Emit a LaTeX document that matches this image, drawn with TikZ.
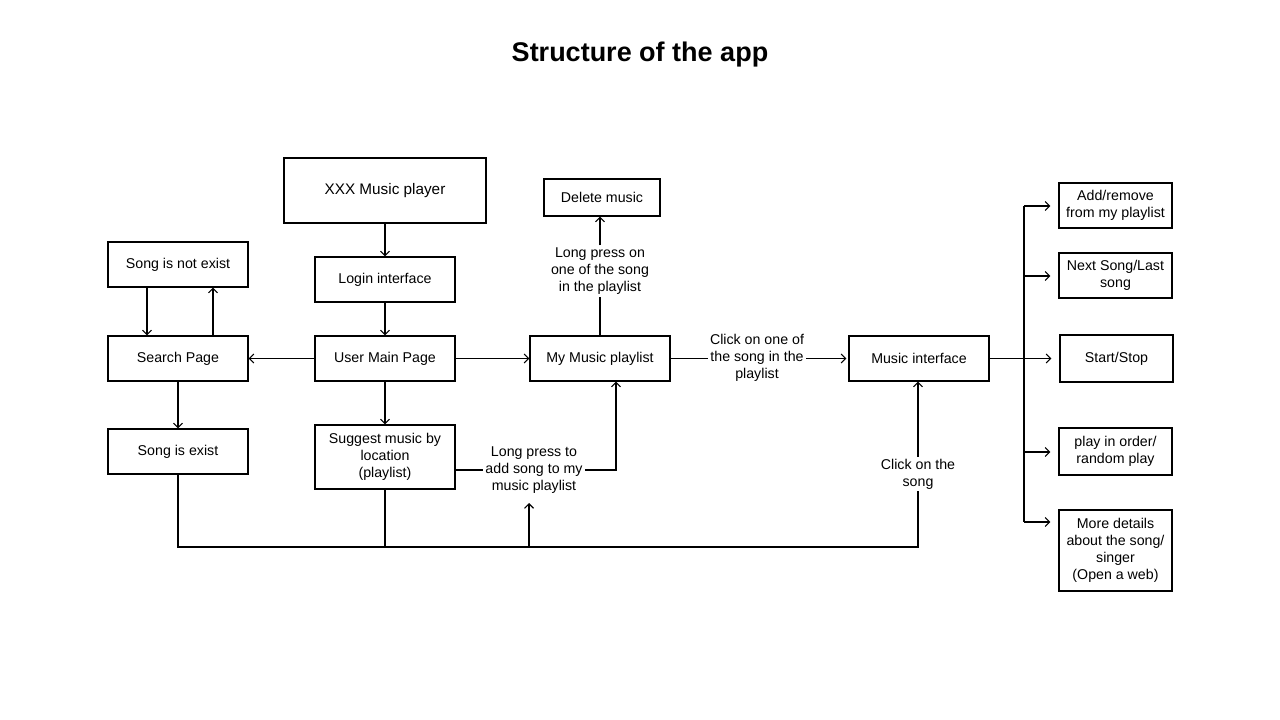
\documentclass[tikz,border=0pt]{standalone}
\usepackage{fontspec}
\setmainfont{Liberation Sans}
\usetikzlibrary{arrows.meta}
\begin{document}
\begin{tikzpicture}[x=1pt,y=-1pt,
  font=\fontsize{14.2}{17}\selectfont,
  box/.style={draw,line width=1.1pt,align=center,inner sep=2pt},
  lbl/.style={align=center,inner sep=2pt},
  conn/.style={line width=1.1pt},
  arr/.style={conn,-{Straight Barb[length=4.5pt,width=9pt,line width=1.1pt]}}]
\useasboundingbox (0,0) rectangle (1280,720);

\node[font=\fontsize{27}{32}\selectfont\bfseries] (title) at (640,55) {Structure of the app};

% pages
\node[box,minimum width=202pt,minimum height=65pt,font=\fontsize{15.3}{18}\selectfont] (player) at (385,190.5) {XXX Music player};
\node[box,minimum width=140pt,minimum height=45pt] (login) at (385,279.5) {Login interface};
\node[box,minimum width=140pt,minimum height=45pt] (main) at (385,358.5) {User Main Page};
\node[box,minimum width=140pt,minimum height=45pt] (search) at (178,358.5) {Search Page};
\node[box,minimum width=140pt,minimum height=45pt] (notexist) at (178,264.5) {Song is not exist};
\node[box,minimum width=140pt,minimum height=45pt] (exist) at (178,451.5) {Song is exist};
\node[box,minimum width=140pt,minimum height=64pt] (suggest) at (385,457) {Suggest music by\\location\\(playlist)};
\node[box,minimum width=140pt,minimum height=45pt] (mylist) at (600,358.5) {My Music playlist};
\node[box,minimum width=116pt,minimum height=37pt] (delete) at (602,197.5) {Delete music};
\node[box,minimum width=140pt,minimum height=45pt] (player2) at (919,358.5) {Music interface};

% player functions
\node[box,minimum width=113pt,minimum height=45pt] (addrem) at (1115.5,205.5) {Add/remove\\from my playlist};
\node[box,minimum width=113pt,minimum height=45pt] (next) at (1115.5,275.5) {Next Song/Last\\song};
\node[box,minimum width=113pt,minimum height=47pt] (start) at (1116.5,358.5) {Start/Stop};
\node[box,minimum width=113pt,minimum height=47pt] (order) at (1115.5,451.5) {play in order/\\random play};
\node[box,minimum width=113pt,minimum height=81pt] (details) at (1115.5,550.5) {More details\\about the song/\\singer\\(Open a web)};

% edge labels
\node[lbl] (lpdel) at (600,271) {Long press on\\one of the song\\in the playlist};
\node[lbl] (clickone) at (757,358) {Click on one of\\the song in the\\playlist};
\node[lbl] (lpadd) at (534,470) {Long press to\\add song to my\\music playlist};
\node[lbl] (clicksong) at (918,474) {Click on the\\song};

% main flow
\draw[arr] (player.south) -- (login.north);
\draw[arr] (login.south) -- (main.north);
\draw[arr] (main.west) -- (search.east);
\draw[arr] (main.east) -- (mylist.west);
\draw[arr] (main.south) -- (suggest.north);
\draw[arr] (search.south) -- (exist.north);
\draw[arr] (notexist.south -| 147,0) -- (search.north -| 147,0);
\draw[arr] (search.north -| 213,0) -- (notexist.south -| 213,0);

% playlist actions
\draw[conn] (mylist.north) -- (lpdel.south);
\draw[arr] (lpdel.north) -- (delete.south -| lpdel.north);
\draw[conn] (mylist.east) -- (clickone.west |- mylist.east);
\draw[arr] (clickone.east |- player2.west) -- ([xshift=-2pt]player2.west);
\draw[conn] (suggest.east |- 0,470) -- (lpadd.west |- 0,470);
\draw[arr] (lpadd.east |- 0,470) -- (616,470) -- (mylist.south -| 616,0);

% bottom bus
\coordinate (busL) at (178,547);
\coordinate (busR) at (918,547);
\draw[conn] (exist.south) -- (busL) -- (busR) -- (clicksong.south);
\draw[conn] (suggest.south) -- (suggest.south |- busL);
\draw[arr] (529,547) -- (529,503);
\draw[arr] (clicksong.north) -- (player2.south -| clicksong.north);

% fan-out from the music interface
\coordinate (fan) at (1024,358.5);
\draw[conn] (player2.east) -- (fan);
\draw[conn] (1024,206) -- (1024,522);
\draw[arr] (1024,206) -- ([xshift=-8pt]addrem.west |- 0,206);
\draw[arr] (1024,276) -- ([xshift=-8pt]next.west |- 0,276);
\draw[arr] (fan) -- ([xshift=-8pt]start.west);
\draw[arr] (1024,452) -- ([xshift=-8pt]order.west |- 0,452);
\draw[arr] (1024,522) -- ([xshift=-8pt]details.west |- 0,522);
\end{tikzpicture}
\end{document}
